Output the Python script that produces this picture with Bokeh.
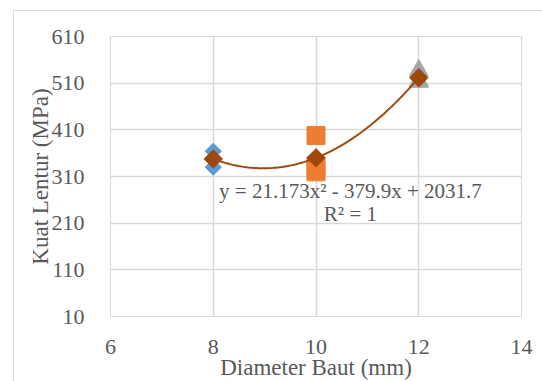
import numpy as np
from bokeh.plotting import figure
from bokeh.models import FixedTicker, Label
from bokeh.embed import file_html
from bokeh.resources import INLINE

# data
d8 = [364, 330, 349]
d10 = [398, 332, 320]
d12 = [537, 515, 513]
diameters = [8, 10, 12]
x_ticks = [6, 8, 10, 12, 14]
y_ticks = [10, 110, 210, 310, 410, 510, 610]
eq_text = "y = 21.173x² - 379.9x + 2031.7"
r2_text = "R² = 1"

avg = [float(np.mean(d)) for d in (d8, d10, d12)]
coef = np.polyfit(diameters, avg, 2)
xs = np.linspace(diameters[0], diameters[-1], 100)
ys = np.polyval(coef, xs)

FONT = "'Liberation Serif', 'Times New Roman', serif"
TXT = "#595959"
GRID = "#d9d9d9"

p = figure(width=529, height=371, output_backend="svg", toolbar_location=None,
           x_range=(6, 14), y_range=(10, 610),
           min_border_left=96, min_border_right=22, min_border_top=25, min_border_bottom=66)
p.margin = (10, 0, 0, 13)
p.styles = {"border-left": "1px solid #d9d9d9", "border-top": "1px solid #d9d9d9"}

p.outline_line_color = GRID
p.background_fill_color = "white"
p.border_fill_color = "white"
for ax in (p.xaxis[0], p.yaxis[0]):
    ax.axis_line_color = None
    ax.major_tick_line_color = None
    ax.minor_tick_line_color = None
    ax.major_label_text_font = FONT
    ax.major_label_text_font_size = "22px"
    ax.major_label_text_color = TXT
    ax.axis_label_text_font = FONT
    ax.axis_label_text_font_size = "23px"
    ax.axis_label_text_font_style = "normal"
    ax.axis_label_text_color = TXT
p.xaxis.ticker = FixedTicker(ticks=x_ticks)
p.yaxis.ticker = FixedTicker(ticks=y_ticks)
p.xaxis.axis_label = "Diameter Baut (mm)"
p.yaxis.axis_label = "Kuat Lentur (MPa)"
p.xaxis.major_label_standoff = 17
p.yaxis.major_label_standoff = 20
p.xaxis.axis_label_standoff = -2
p.yaxis.axis_label_standoff = -4
p.xgrid.grid_line_color = GRID
p.ygrid.grid_line_color = GRID
p.xgrid.grid_line_width = 1.5
p.ygrid.grid_line_width = 1.5

p.scatter([8] * len(d8), d8, marker="square", angle=np.pi / 4, size=11.5,
          color="#5B9BD5")
p.scatter([10] * len(d10), d10, marker="square", size=18, color="#ED7D31")
p.scatter([12] * len(d12), d12, marker="triangle", size=19, color="#A5A5A5")
p.line(xs, ys, line_color="#9E480E", line_width=2)
p.scatter(diameters, avg, marker="square", angle=np.pi / 4, size=13,
          color="#9E480E")

p.add_layout(Label(x=10.67, y=278, text=eq_text, text_align="center",
                   text_baseline="middle", text_font=FONT,
                   text_font_size="21px", text_color=TXT))
p.add_layout(Label(x=10.67, y=229, text=r2_text, text_align="center",
                   text_baseline="middle", text_font=FONT,
                   text_font_size="21px", text_color=TXT))

open("out.html", "w").write(file_html(p, INLINE))
